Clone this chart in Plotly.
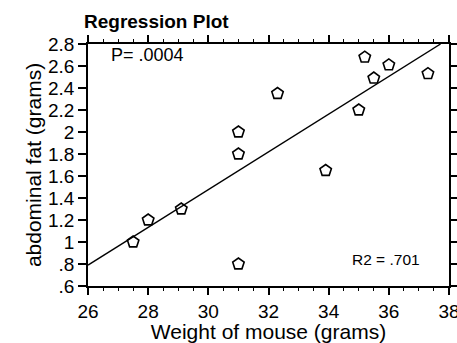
import plotly.graph_objects as go

# Data
weight = [27.5, 28.0, 29.1, 31.0, 31.0, 31.0, 32.3, 33.9, 35.0, 35.2, 35.5, 36.0, 37.3]
fat = [1.00, 1.20, 1.30, 2.00, 1.80, 0.80, 2.35, 1.65, 2.20, 2.68, 2.49, 2.61, 2.53]

# Regression line as drawn in the reference
fit_x = [26.0, 37.72]
fit_y = [0.79, 2.80]

x_ticks = [26, 28, 30, 32, 34, 36, 38]
y_ticks = [0.6, 0.8, 1.0, 1.2, 1.4, 1.6, 1.8, 2.0, 2.2, 2.4, 2.6, 2.8]
y_labels = [".6", ".8", "1", "1.2", "1.4", "1.6", "1.8", "2", "2.2", "2.4", "2.6", "2.8"]

FONT = "Liberation Sans, Arial, Helvetica, sans-serif"

fig = go.Figure()
fig.add_trace(go.Scatter(x=fit_x, y=fit_y, mode="lines",
                         line=dict(color="black", width=1.4),
                         hoverinfo="skip", showlegend=False))
fig.add_trace(go.Scatter(x=weight, y=fat, mode="markers",
                         marker=dict(symbol="pentagon-open", size=12,
                                     color="black", line=dict(width=1.6, color="black")),
                         showlegend=False))

fig.update_layout(
    width=457, height=343,
    margin=dict(l=88, r=8, t=44, b=57),
    paper_bgcolor="white", plot_bgcolor="white",
    font=dict(family=FONT, color="black"),
    title=dict(text="<b>Regression Plot</b>", x=84/457, xanchor="left",
               y=1 - 21/343, yanchor="middle", font=dict(size=19, family=FONT)),
    xaxis=dict(range=[26, 38], tickvals=x_ticks, ticks="outside", ticklen=7,
               tickwidth=1.5, tickcolor="black", automargin=False,
               ticklabeloverflow="allow",
               showline=True, linecolor="black", linewidth=1.8, mirror="ticks",
               showgrid=False, zeroline=False,
               tickfont=dict(size=19, family=FONT),
               minor=dict(dtick=0.5, ticks="outside", ticklen=3.5, tickwidth=1.3,
                          tickcolor="black", showgrid=False),
               title=dict(text="Weight of mouse (grams)", font=dict(size=21, family=FONT),
                          standoff=0)),
    yaxis=dict(range=[0.6, 2.8], tickvals=y_ticks, ticktext=y_labels,
               ticks="outside", ticklen=8, tickwidth=1.5, tickcolor="black",
               automargin=False, ticklabeloverflow="allow",
               showline=True, linecolor="black", linewidth=1.8, mirror="ticks",
               showgrid=False, zeroline=False,
               tickfont=dict(size=19, family=FONT),
               title=dict(text="abdominal fat (grams)", font=dict(size=21, family=FONT),
                          standoff=1)),
    annotations=[
        dict(text="P= .0004", x=26.7, y=2.7, xref="x", yref="y",
             xanchor="left", yanchor="middle", showarrow=False,
             font=dict(size=18, family=FONT)),
        dict(text="R2 = .701", x=37.1, y=0.84, xref="x", yref="y",
             xanchor="right", yanchor="middle", showarrow=False,
             font=dict(size=15.5, family=FONT)),
    ],
)

fig.write_html("out.html")
